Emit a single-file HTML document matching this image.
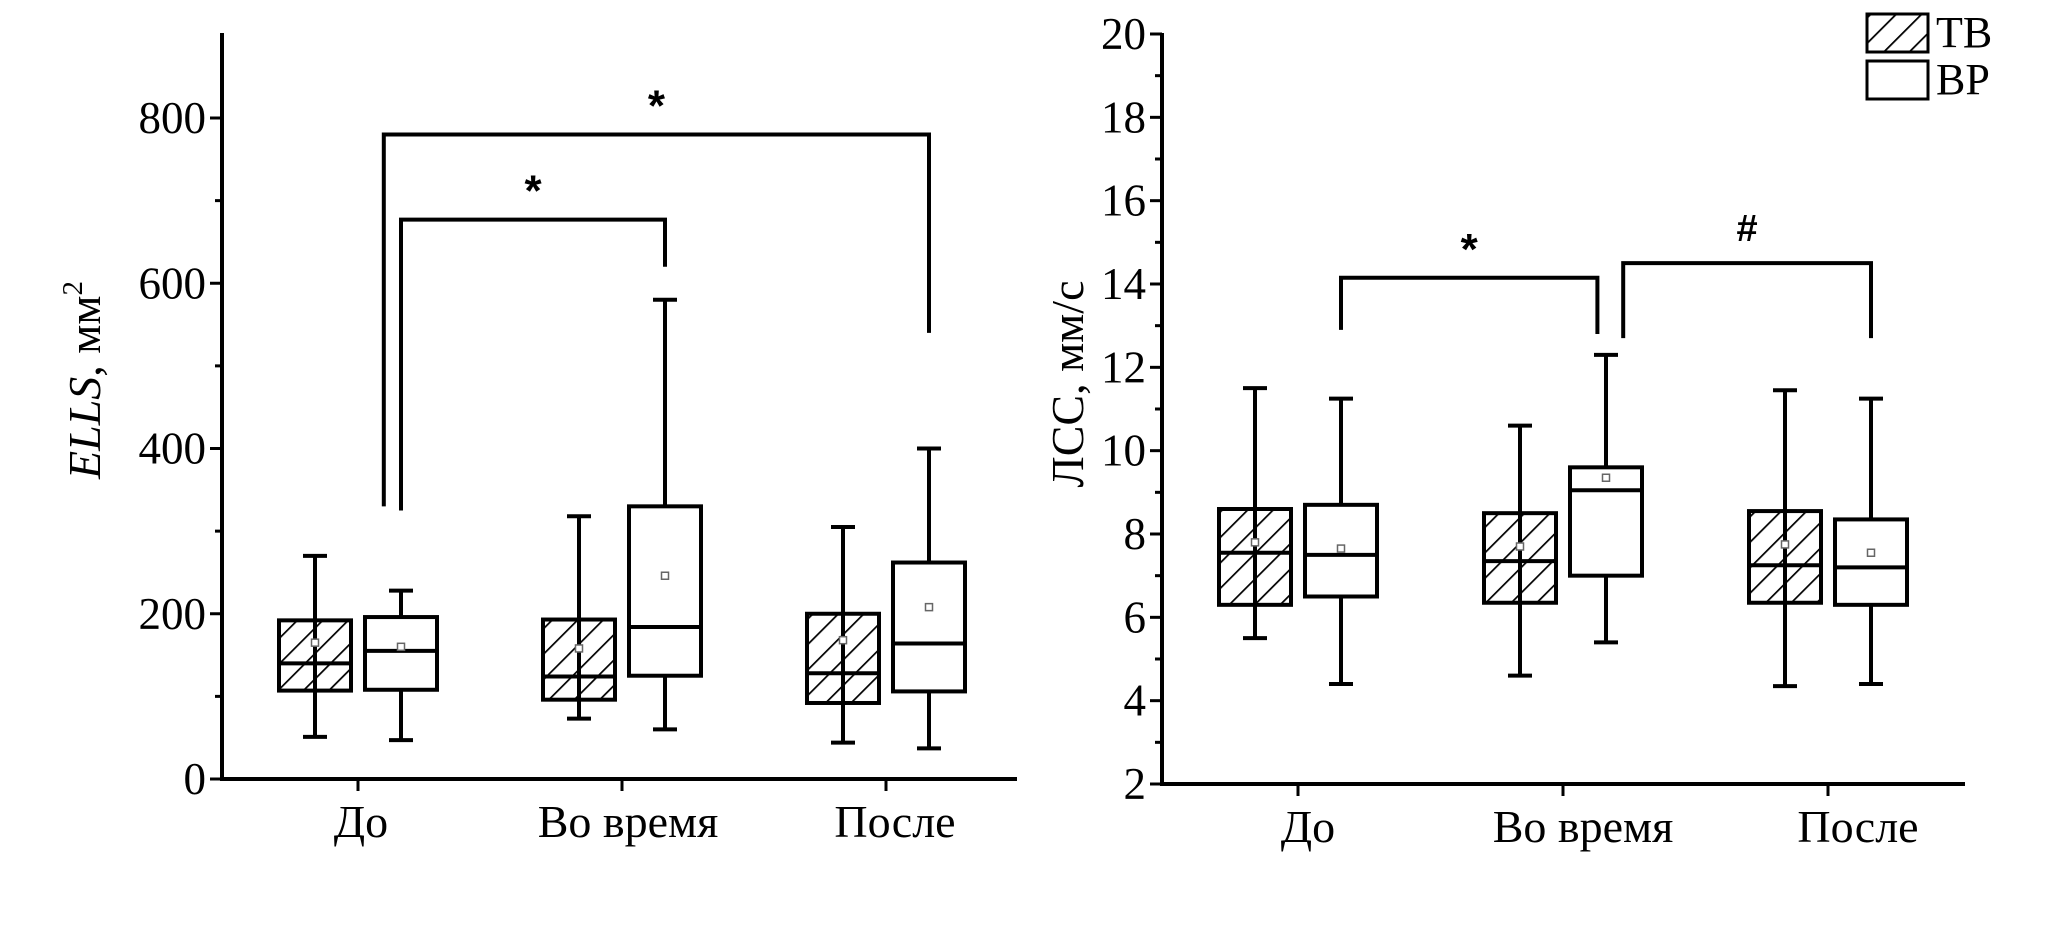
<!DOCTYPE html>
<html><head><meta charset="utf-8"><style>
html,body{margin:0;padding:0;background:#fff;}
svg{display:block;font-family:"Liberation Serif","DejaVu Serif",serif;}
</style></head><body>
<svg id="s" width="2066" height="933" viewBox="0 0 2066 933">
<defs>
<pattern id="hatch" patternUnits="userSpaceOnUse" width="18" height="18" patternTransform="rotate(45)">
<line x1="0" y1="0" x2="0" y2="18" stroke="#000" stroke-width="3.5"/>
</pattern>
</defs>
</svg>
<script>
const categories = ["До","Во время","После"];
const groups = ["TB","BP"];
// left panel: [min, q1, median, q3, max, mean]
const ellsTB = [[51,107,140,192,270,165],[73,96,124,193,318,158],[44,92,128,200,305,168]];
const ellsBP = [[47,108,155,196,228,160],[60,125,184,330,580,246],[37,106,164,262,400,208]];
const ellsTicks = [0,200,400,600,800];
// right panel
const lssTB = [[5.5,6.3,7.55,8.6,11.5,7.8],[4.6,6.35,7.35,8.5,10.6,7.7],[4.35,6.35,7.25,8.55,11.45,7.75]];
const lssBP = [[4.4,6.5,7.5,8.7,11.25,7.65],[5.4,7.0,9.05,9.6,12.3,9.35],[4.4,6.3,7.2,8.35,11.25,7.55]];
const lssTicks = [2,4,6,8,10,12,14,16,18,20];
// brackets: [fromCat, fromGroup, fromY, topY, toCat, toGroup, toY, label]
const ellsBrackets = [[0,1,325,677,1,1,620,"*"],[0,0.8,330,780,2,1,540,"*"]];
const lssBrackets = [[0,1,12.9,14.15,1,0.9,12.8,"*"],[1,1.2,12.7,14.5,2,1,12.7,"#"]];

const svg=document.getElementById('s');
const NS="http://www.w3.org/2000/svg";
function mk(tag,attrs,parent){const e=document.createElementNS(NS,tag);for(const k in attrs)e.setAttribute(k,attrs[k]);(parent||svg).appendChild(e);return e;}

function panel(o){
  const g=mk('g',{});
  
  
  const y=v=>o.y0+(v-o.vmin)*(o.y1-o.y0)/(o.vmax-o.vmin);
  const xc=i=>o.cx0+i*o.step;
  const gx=(i,gi)=>xc(i)+(gi-0.5)*86;
  const ya=mk('line',{x1:o.ax,y1:o.top,x2:o.ax,y2:o.y0+2,stroke:'#000','stroke-width':4},g);
  
  const xa=mk('line',{x1:o.ax-2,y1:o.y0,x2:o.xr,y2:o.y0,stroke:'#000','stroke-width':4},g);
  
  o.ticks.forEach((t,k)=>{
    mk('line',{x1:o.ax-12,y1:y(t),x2:o.ax,y2:y(t),stroke:'#000','stroke-width':3},g);
    const tx=mk('text',{x:o.ax-16,y:y(t)+15,'text-anchor':'end','font-size':45},g);
    tx.textContent=t;
    
    if(k<o.ticks.length-1){const m=(t+o.ticks[k+1])/2;mk('line',{x1:o.ax-7,y1:y(m),x2:o.ax,y2:y(m),stroke:'#000','stroke-width':3},g);}
  });
  categories.forEach((c,i)=>{
    mk('line',{x1:xc(i),y1:o.y0,x2:xc(i),y2:o.y0+12,stroke:'#000','stroke-width':3},g);
    const tx=mk('text',{x:xc(i)+o.lo*(i+1),y:o.y0+58,'text-anchor':'middle','font-size':46},g);
    tx.textContent=c;
    
  });
  [o.tb,o.bp].forEach((ser,gi)=>{
    ser.forEach((d,i)=>{
      const cx=gx(i,gi),w=72;
      const bg=mk('g',{},g);
      
      
      const ls={stroke:'#000','stroke-width':4};
      mk('line',Object.assign({x1:cx,y1:y(d[0]),x2:cx,y2:y(d[4])},ls),bg);
      mk('line',Object.assign({x1:cx-12,y1:y(d[0]),x2:cx+12,y2:y(d[0])},ls),bg);
      mk('line',Object.assign({x1:cx-12,y1:y(d[4]),x2:cx+12,y2:y(d[4])},ls),bg);
      mk('rect',{x:cx-w/2,y:y(d[3]),width:w,height:y(d[1])-y(d[3]),fill:gi?'#fff':'url(#hatch)',stroke:'#000','stroke-width':4},bg);
      mk('line',Object.assign({x1:cx-w/2,y1:y(d[2]),x2:cx+w/2,y2:y(d[2])},ls),bg);
      mk('rect',{x:cx-3.5,y:y(d[5])-3.5,width:7,height:7,fill:'#fff',stroke:'#666','stroke-width':1.5},bg);
    });
  });
  o.brackets.forEach(b=>{
    const xa_=gx(b[0],b[1]),xb=gx(b[4],b[5]);
    const bg=mk('g',{},g);
    
    
    mk('polyline',{points:`${xa_},${y(b[2])} ${xa_},${y(b[3])} ${xb},${y(b[3])} ${xb},${y(b[6])}`,fill:'none',stroke:'#000','stroke-width':4},bg);
    const tx=mk('text',{x:(xa_+xb)/2,y:y(b[3])-(b[7]=='#'?22:14),'text-anchor':'middle','font-size':b[7]=='#'?38:44,'font-weight':'bold','font-family':'Liberation Sans, sans-serif'},bg);
    tx.textContent=b[7];
  });
  const tt=mk('text',{transform:`translate(${o.tx},${o.ty}) rotate(-90)`,'text-anchor':'middle','font-size':46},g);
  tt.innerHTML=o.title;
  
}

panel({name:'ells-panel',ax:222,top:33,xr:1017,y0:779,y1:118,vmin:0,vmax:800,ticks:ellsTicks,cx0:358,step:264,lo:3,tb:ellsTB,bp:ellsBP,brackets:ellsBrackets,tx:100,ty:380,
  title:'<tspan font-style="italic">ELLS</tspan>, мм<tspan font-size="29" dy="-18">2</tspan>'});
panel({name:'lss-panel',ax:1162,top:33,xr:1965,y0:784,y1:34,vmin:2,vmax:20,ticks:lssTicks,cx0:1298,step:265,lo:10,tb:lssTB,bp:lssBP,brackets:lssBrackets,tx:1083,ty:384,
  title:'ЛСС, мм/с'});

const lg=mk('g',{});


const l1=mk('g',{},lg);


mk('rect',{x:1867,y:14,width:61,height:38,fill:'url(#hatch)',stroke:'#000','stroke-width':3},l1);
const t1=mk('text',{x:1936,y:47,'font-size':44},l1);t1.textContent='ТВ';
const l2=mk('g',{},lg);


mk('rect',{x:1867,y:61,width:61,height:38,fill:'#fff',stroke:'#000','stroke-width':3},l2);
const t2=mk('text',{x:1936,y:94,'font-size':44},l2);t2.textContent='ВР';
</script>
</body></html>
